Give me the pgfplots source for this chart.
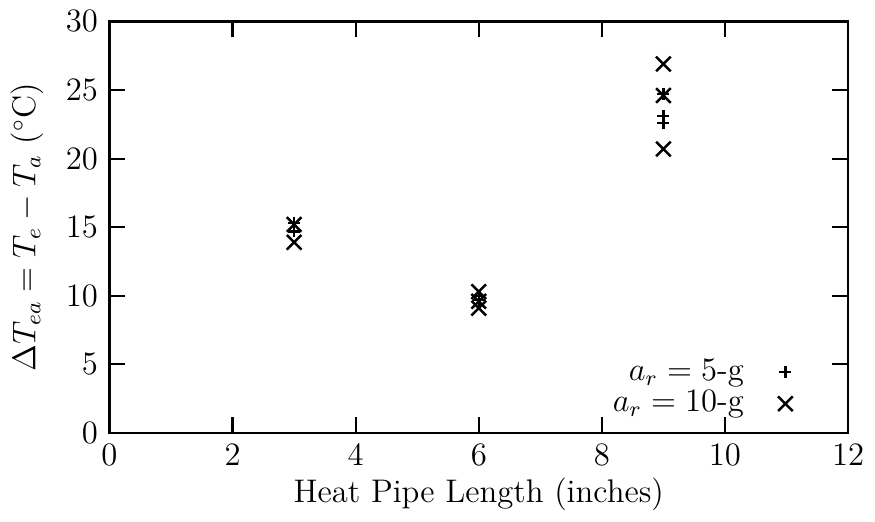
\documentclass[border=0pt,12pt]{standalone}
\usepackage{pgfplots}
\pgfplotsset{compat=1.18}

\begin{document}
\begin{tikzpicture}
  \begin{axis}[
      scale only axis,
      width=271pt, height=151pt,
      xmin=0, xmax=12, ymin=0, ymax=30,
      xtick={0,2,...,12}, ytick={0,5,...,30},
      tick align=inside,
      major tick length=5.8pt,
      axis line style={line width=1pt},
      every tick/.style={line width=0.8pt, black},
      xlabel={Heat Pipe Length (inches)},
      ylabel={$\Delta T_{ea} = T_e - T_a$ ($^\circ$C)},
      xlabel style={yshift=3.5pt},
      legend plot pos=right,
      legend cell align=right,
      legend style={draw=none, fill=none, at={(axis cs:11.2,0.75)}, anchor=south east,
        row sep=-2pt, inner sep=0pt},
      legend image code/.code={\path (0,0) (0.6cm,0); \draw[#1] plot coordinates {(0.45cm,0cm)};},
    ]
    % 5-g runs
    \addplot[only marks, mark=+, mark size=2.2pt, line width=0.9pt, black]
      coordinates {
        (3,15.3) (3,14.7)
        (6,10.0) (6,9.7)
        (9,24.7) (9,23.1) (9,22.6)
      };
    \addlegendentry{$a_r = 5$-g}
    % 10-g runs
    \addplot[only marks, mark=x, mark size=3.8pt, line width=0.9pt, black]
      coordinates {
        (3,15.2) (3,13.9)
        (6,10.3) (6,9.6) (6,9.1)
        (9,26.9) (9,24.6) (9,20.7)
      };
    \addlegendentry{$a_r = 10$-g}
  \end{axis}
\end{tikzpicture}
\end{document}
